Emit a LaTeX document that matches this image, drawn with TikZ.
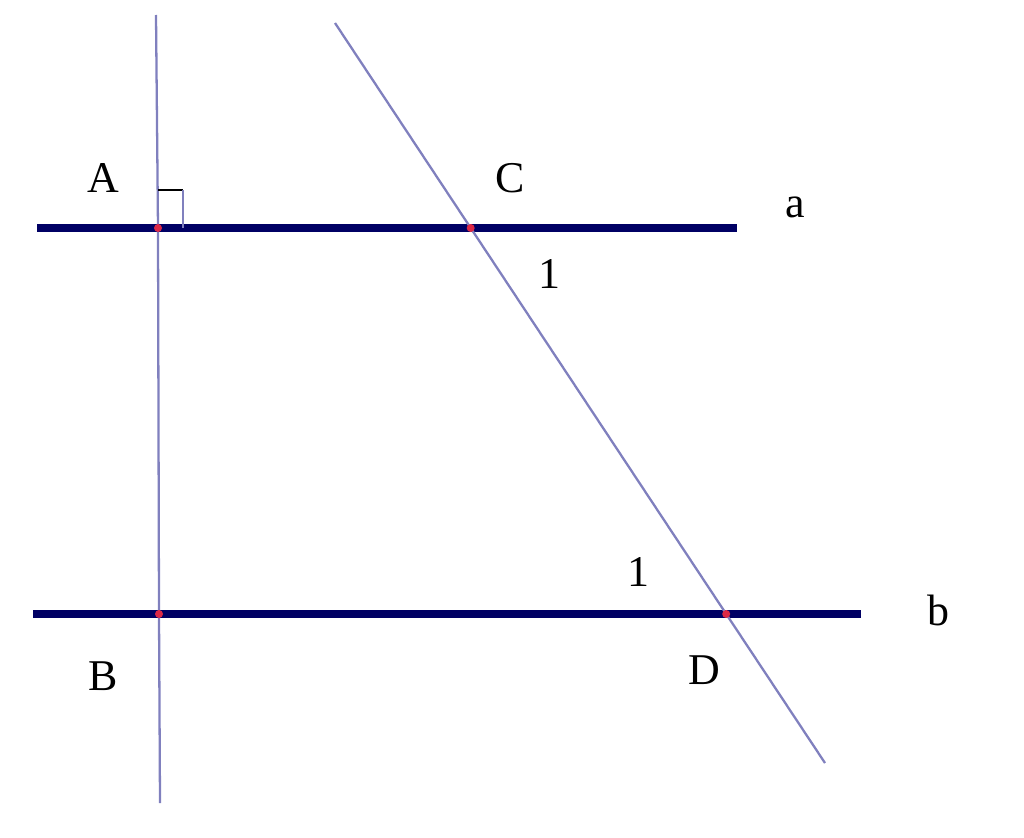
\documentclass[tikz,border=0pt]{standalone}
\usepackage{fontspec}
\setmainfont{Liberation Serif}
\usepackage{tikz}

\begin{document}
\begin{tikzpicture}[x=0.02cm, y=0.02cm]
\tikzset{
  parline/.style={line width=5.1pt, color={rgb,255:red,0;green,0;blue,100}},
  thinline/.style={line width=1.3pt, color={rgb,255:red,128;green,128;blue,190}},
  ptdot/.style={fill={rgb,255:red,220;green,40;blue,70}},
  lbl/.style={inner sep=0pt, font=\fontsize{25}{30}\selectfont}
}
\useasboundingbox (0,0) rectangle (1024,-838);
% points
\coordinate (A) at (158,-228);
\coordinate (B) at (159,-614);
\coordinate (C) at (470.7,-228);
\coordinate (D) at (726.2,-614);
% line ends
\coordinate (atop) at (156,-15);
\coordinate (abot) at (160,-803);
\coordinate (aleft) at (37,-228);
\coordinate (aright) at (737,-228);
\coordinate (bleft) at (33,-614);
\coordinate (bright) at (861,-614);
\coordinate (ctop) at (335,-23);
\coordinate (cbot) at (825,-763);
% the two parallels
\draw [parline] (aleft) -- (aright);
\draw [parline] (bleft) -- (bright);
% transversals
\draw [thinline] (atop) -- (A) -- (B) -- (abot);
\draw [thinline] (ctop) -- (C) -- (D) -- (cbot);
% right angle at A
\draw [line width=1.2pt, black] (158,-190) -- (183,-190);
\draw [thinline] (183,-190) -- (183,-228);
% intersection dots
\foreach \p in {A,B,C,D}
  \fill [ptdot] (\p) circle (4);
% labels
\node [lbl] (lA) at (103,-178) {A};
\node [lbl] (lC) at (510,-178) {C};
\node [lbl] (la) at (795,-207) {a};
\node [lbl] (l1c) at (549,-274) {1};
\node [lbl] (l1d) at (638,-572) {1};
\node [lbl] (lb) at (938,-610) {b};
\node [lbl] (lB) at (103,-676) {B};
\node [lbl] (lD) at (704,-670) {D};
\end{tikzpicture}
\end{document}
